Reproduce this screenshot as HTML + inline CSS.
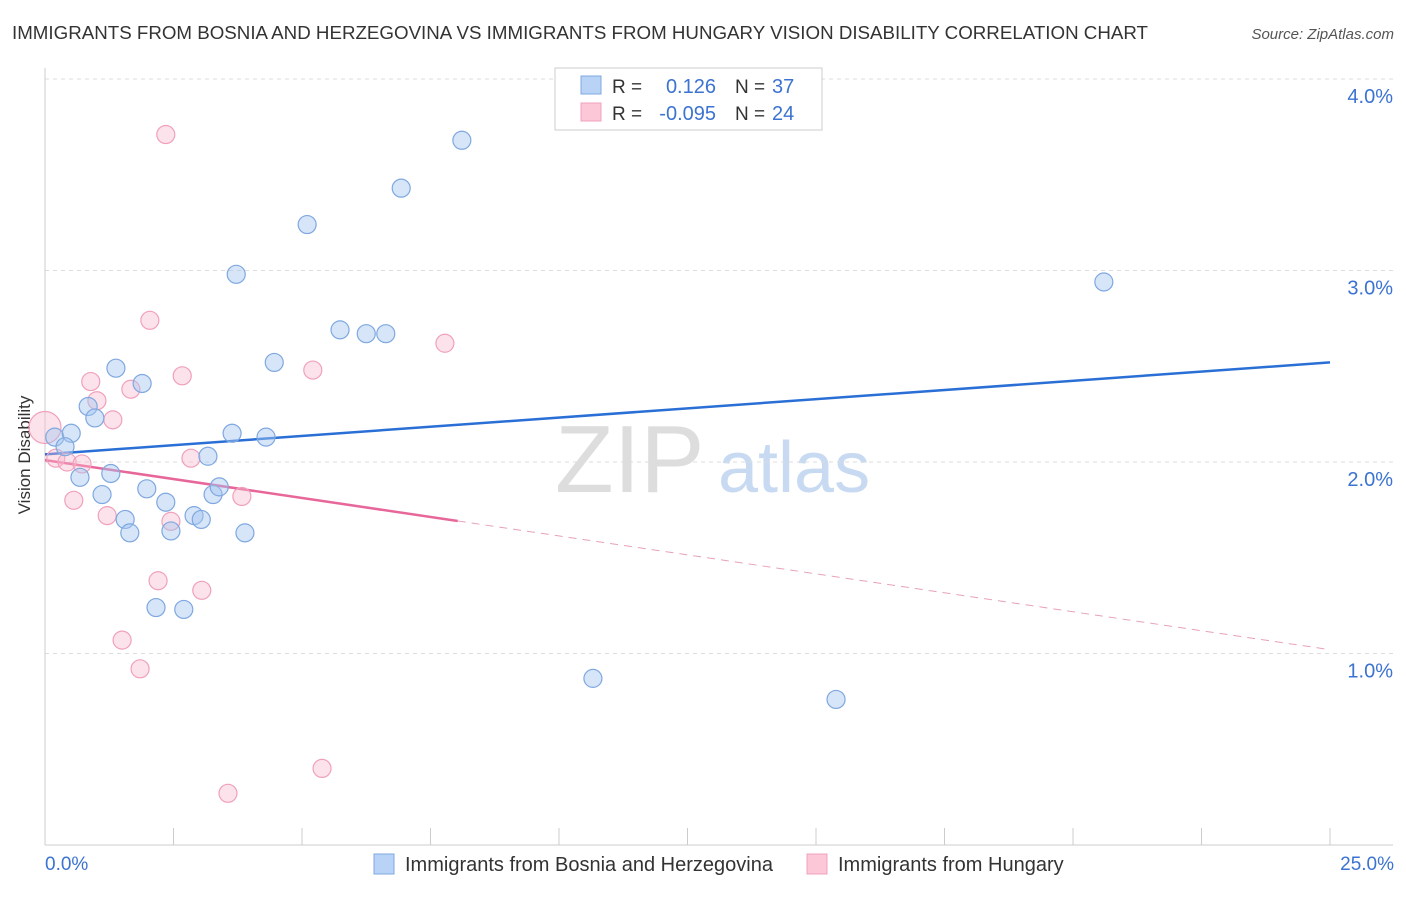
<!DOCTYPE html>
<html><head><meta charset="utf-8"><style>
body{margin:0;background:#fff;font-family:"Liberation Sans",sans-serif;}
svg text{font-family:"Liberation Sans",sans-serif;}
</style></head><body>
<svg id="chart" width="1406" height="892">
<text x="12" y="39" font-size="18" fill="#333" textLength="1136" lengthAdjust="spacingAndGlyphs">IMMIGRANTS FROM BOSNIA AND HERZEGOVINA VS IMMIGRANTS FROM HUNGARY VISION DISABILITY CORRELATION CHART</text>
<text x="1394" y="39" font-size="15" fill="#555" font-style="italic" text-anchor="end">Source: ZipAtlas.com</text>
<text x="30" y="455" font-size="17" fill="#333" text-anchor="middle" transform="rotate(-90 30 455)">Vision Disability</text>
<g><text x="555" y="492" font-size="96" fill="#ddd" font-family="Liberation Serif">ZIP</text><text x="718" y="492" font-size="72" fill="#c8daf2">atlas</text></g>
<g id="grid"></g><g id="axes"></g><g id="lines"></g><g id="points"></g>
<g>
<rect x="555" y="68" width="267" height="62" fill="#fff" stroke="#ccc"/>
<rect x="581" y="76" width="20" height="18" fill="#b8d3f5" stroke="#7fa8e0"/>
<rect x="581" y="103" width="20" height="18" fill="#fcc8d8" stroke="#f0a0bc"/>
<text x="612" y="93" font-size="19" fill="#333">R =</text><text x="716" y="93" font-size="20" fill="#3b73d1" text-anchor="end">0.126</text>
<text x="735" y="93" font-size="19" fill="#333">N =</text><text x="772" y="93" font-size="20" fill="#3b73d1">37</text>
<text x="612" y="120" font-size="19" fill="#333">R =</text><text x="716" y="120" font-size="20" fill="#3b73d1" text-anchor="end">-0.095</text>
<text x="735" y="120" font-size="19" fill="#333">N =</text><text x="772" y="120" font-size="20" fill="#3b73d1">24</text>
</g>
<g>
<rect x="374" y="854" width="20" height="20" fill="#b8d3f5" stroke="#7fa8e0"/>
<text x="405" y="871" font-size="20" fill="#333">Immigrants from Bosnia and Herzegovina</text>
<rect x="807" y="854" width="20" height="20" fill="#fcc8d8" stroke="#f0a0bc"/>
<text x="838" y="871" font-size="20" fill="#333">Immigrants from Hungary</text>
</g>
</svg>
<script>
const blueX=[0.19,0.51,0.39,0.84,0.97,0.68,1.11,1.38,1.89,1.28,1.56,1.65,1.98,2.35,2.45,2.16,2.70,2.90,3.04,3.17,3.27,3.39,3.64,3.72,3.89,4.30,4.46,5.10,5.74,6.25,6.63,6.93,8.11,10.66,15.39,20.60];
const blueY=[2.13,2.15,2.08,2.29,2.23,1.92,1.83,2.49,2.41,1.94,1.70,1.63,1.86,1.79,1.64,1.24,1.23,1.72,1.70,2.03,1.83,1.87,2.15,2.98,1.63,2.13,2.52,3.24,2.69,2.67,2.67,3.43,3.68,0.87,0.76,2.94];
const pinkX=[0,0.21,0.43,0.72,0.56,0.89,1.01,1.21,1.32,1.67,2.04,2.35,2.20,2.67,2.45,2.84,3.05,1.50,1.85,3.83,3.56,5.21,5.39,7.78];
const pinkY=[2.18,2.02,2.00,1.99,1.80,2.42,2.32,1.72,2.22,2.38,2.74,3.71,1.38,2.45,1.69,2.02,1.33,1.07,0.92,1.82,0.27,2.48,0.40,2.62];
const yTicks=[1,2,3,4];
const xTickLabels=["0.0%","25.0%"];
const blueTrend=[2.04,2.52];
const pinkTrend=[2.01,1.02];
const sx=v=>45+v*51.4, sy=v=>845-v*191.5;
const NS="http://www.w3.org/2000/svg";
function mk(tag,attrs,parent){const e=document.createElementNS(NS,tag);for(const k in attrs)e.setAttribute(k,attrs[k]);document.getElementById(parent).appendChild(e);return e;}
yTicks.forEach(t=>{
 const l=mk('line',{x1:45,x2:1393,y1:sy(t),y2:sy(t),stroke:'#ddd','stroke-dasharray':'4,4'},'grid');
 
 
 const tx=mk('text',{x:1393,y:sy(t)+24,'font-size':20,fill:'#3b73d1','text-anchor':'end'},'grid');tx.textContent=t.toFixed(1)+'%';
 
 
});
mk('line',{x1:45,x2:45,y1:68,y2:845,stroke:'#ccc'},'axes');
mk('line',{x1:45,x2:1393,y1:845,y2:845,stroke:'#ccc'},'axes');
for(let i=0;i<=10;i++){const x=sx(i*2.5);const t=mk('line',{x1:x,x2:x,y1:828,y2:845,stroke:'#ccc'},'axes');
 
 }
const xl0=mk('text',{x:45,y:870,'font-size':19,fill:'#3b73d1'},'axes');xl0.textContent=xTickLabels[0];


const xl1=mk('text',{x:1394,y:870,'font-size':19,fill:'#3b73d1','text-anchor':'end'},'axes');xl1.textContent=xTickLabels[1];


const bl=mk('line',{x1:sx(0),y1:sy(blueTrend[0]),x2:sx(25),y2:sy(blueTrend[1]),stroke:'#2a6fd6','stroke-width':2.5},'lines');


const pAt=x=>pinkTrend[0]+(pinkTrend[1]-pinkTrend[0])*x/25;
const pmax=Math.max(...pinkX)+0.25;
const pl=mk('line',{x1:sx(0),y1:sy(pAt(0)),x2:sx(pmax),y2:sy(pAt(pmax)),stroke:'#e8679a','stroke-width':2.5},'lines');


const pd=mk('line',{x1:sx(pmax),y1:sy(pAt(pmax)),x2:sx(25),y2:sy(pAt(25)),stroke:'#e8a0bc','stroke-width':1,'stroke-dasharray':'8,6'},'lines');


pinkX.forEach((x,i)=>{const c=mk('circle',{cx:sx(x),cy:sy(pinkY[i]),r:i==0?16:9,fill:'rgba(248,185,205,0.4)',stroke:'#f0a0bc','stroke-width':1.2},'points');
 
 });
blueX.forEach((x,i)=>{const c=mk('circle',{cx:sx(x),cy:sy(blueY[i]),r:9,fill:'rgba(165,198,240,0.45)',stroke:'#7fa8e0','stroke-width':1.2},'points');
 
 });
</script>
</body></html>
